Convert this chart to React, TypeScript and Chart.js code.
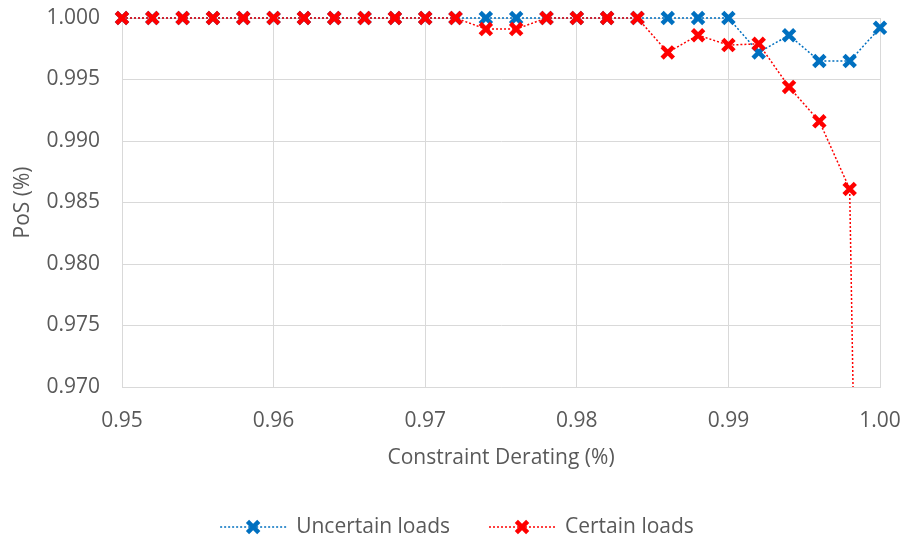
import React, { useEffect, useRef } from 'react';
import { Chart, registerables } from 'chart.js';

Chart.register(...registerables);

// Constraint derating levels (x) and probability of success for each load case (y)
const derating = [
  0.950, 0.952, 0.954, 0.956, 0.958, 0.960, 0.962, 0.964, 0.966, 0.968,
  0.970, 0.972, 0.974, 0.976, 0.978, 0.980, 0.982, 0.984, 0.986, 0.988,
  0.990, 0.992, 0.994, 0.996, 0.998, 1.000,
];
const uncertainLoads = [
  1.0, 1.0, 1.0, 1.0, 1.0, 1.0, 1.0, 1.0, 1.0, 1.0,
  1.0, 1.0, 1.0, 1.0, 1.0, 1.0, 1.0, 1.0, 1.0, 1.0,
  1.0, 0.9972, 0.9986, 0.9965, 0.9965, 0.9992,
];
const certainLoads = [
  1.0, 1.0, 1.0, 1.0, 1.0, 1.0, 1.0, 1.0, 1.0, 1.0,
  1.0, 1.0, 0.9991, 0.9991, 1.0, 1.0, 1.0, 1.0, 0.9972, 0.9986,
  0.9978, 0.9979, 0.9944, 0.9916, 0.9861, 0.84,
];

const seriesNames = ['Uncertain loads', 'Certain loads'];
const seriesColors = ['#0070C0', '#FF0000'];

const xAxisTitle = 'Constraint Derating (%)';
const yAxisTitle = 'PoS (%)';
const xRange = [0.95, 1.0];
const xStep = 0.01;
const yRange = [0.97, 1.0];
const yStep = 0.005;

const FONT_FAMILY = '"Open Sans", Lato, sans-serif';
const FONT_SIZE = 21;
const TEXT_COLOR = '#595959';
const GRID_COLOR = '#D9D9D9';

const toPoints = (ys: number[]) => derating.map((x, i) => ({ x, y: ys[i] }));

// Legend drawn under the axis: dotted line sample with an X marker, then the label
const bottomLegend = {
  id: 'bottomLegend',
  afterDraw(chart: any) {
    const ctx: CanvasRenderingContext2D = chart.ctx;
    ctx.save();
    ctx.font = `${FONT_SIZE}px ${FONT_FAMILY}`;
    const iconW = 66;
    const gap = 10;
    const itemGap = 39;
    const items = chart.data.datasets.map((ds: any) => ({
      text: ds.label as string,
      color: ds.borderColor as string,
      radius: ds.pointRadius as number,
      width: ds.pointBorderWidth as number,
    }));
    const widths = items.map((it: any) => iconW + gap + ctx.measureText(it.text).width);
    const total = widths.reduce((a: number, b: number) => a + b, 0) + itemGap * (items.length - 1);
    let x = 457 - total / 2;
    const y = 527;
    items.forEach((it: any, i: number) => {
      ctx.strokeStyle = it.color;
      ctx.lineWidth = 1.5;
      ctx.setLineDash([2, 2]);
      ctx.beginPath();
      ctx.moveTo(x, y);
      ctx.lineTo(x + iconW, y);
      ctx.stroke();
      ctx.setLineDash([]);
      const cx = x + iconW / 2;
      const d = it.radius / Math.SQRT2;
      ctx.lineWidth = it.width;
      ctx.beginPath();
      ctx.moveTo(cx - d, y - d);
      ctx.lineTo(cx + d, y + d);
      ctx.moveTo(cx - d, y + d);
      ctx.lineTo(cx + d, y - d);
      ctx.stroke();
      ctx.fillStyle = TEXT_COLOR;
      ctx.textBaseline = 'middle';
      ctx.textAlign = 'left';
      ctx.fillText(it.text, x + iconW + gap, y);
      x += widths[i] + itemGap;
    });
    ctx.restore();
  },
};

export default function App() {
  const canvasRef = useRef<HTMLCanvasElement | null>(null);

  useEffect(() => {
    if (!canvasRef.current) return;
    const series = [uncertainLoads, certainLoads];
    const chart = new Chart(canvasRef.current, {
      type: 'line',
      data: {
        datasets: series.map((ys, i) => ({
          label: seriesNames[i],
          data: toPoints(ys),
          borderColor: seriesColors[i],
          backgroundColor: seriesColors[i],
          borderWidth: 1.5,
          borderDash: [2, 2],
          tension: 0,
          fill: false,
          pointStyle: 'crossRot',
          pointRadius: 8,
          pointBorderWidth: 4.5,
          pointBorderColor: seriesColors[i],
          pointBackgroundColor: seriesColors[i],
          // certain loads are painted over uncertain loads
          order: i === 1 ? 0 : 1,
          clip: { left: 14, top: 14, right: 14, bottom: 0 },
        })),
      },
      options: {
        responsive: false,
        animation: false,
        events: [],
        layout: { padding: { top: 18, right: 26, left: 0, bottom: 68 } },
        plugins: {
          legend: { display: false },
          tooltip: { enabled: false },
        },
        scales: {
          x: {
            type: 'linear',
            min: xRange[0],
            max: xRange[1],
            afterFit: (s: any) => { s.height = 84; },
            ticks: {
              stepSize: xStep,
              color: TEXT_COLOR,
              padding: 0,
              font: { family: FONT_FAMILY, size: FONT_SIZE },
              callback: (v: any) => Number(v).toFixed(2),
            },
            grid: {
              color: GRID_COLOR,
              lineWidth: 1,
              drawTicks: true,
              tickLength: 21,
              tickColor: 'rgba(0,0,0,0)',
            },
            border: { color: GRID_COLOR, width: 1 },
            title: {
              display: true,
              text: xAxisTitle,
              color: TEXT_COLOR,
              font: { family: FONT_FAMILY, size: FONT_SIZE },
              padding: { top: 0, bottom: 0 },
            },
          },
          y: {
            type: 'linear',
            min: yRange[0],
            max: yRange[1],
            afterFit: (s: any) => { s.width = 122; },
            ticks: {
              stepSize: yStep,
              color: TEXT_COLOR,
              padding: 0,
              font: { family: FONT_FAMILY, size: FONT_SIZE },
              callback: (v: any) => Number(v).toFixed(3),
            },
            grid: {
              color: GRID_COLOR,
              lineWidth: 1,
              drawTicks: true,
              tickLength: 22,
              tickColor: 'rgba(0,0,0,0)',
            },
            border: { color: GRID_COLOR, width: 1 },
            title: {
              display: true,
              text: yAxisTitle,
              color: TEXT_COLOR,
              font: { family: FONT_FAMILY, size: FONT_SIZE },
              padding: { top: 10, bottom: 0 },
            },
          },
        },
      },
      plugins: [bottomLegend],
    });
    return () => chart.destroy();
  }, []);

  return (
    <div style={{ position: 'absolute', left: 0, top: 0, width: 906, height: 539, background: '#fff' }}>
      <canvas ref={canvasRef} width={906} height={539} style={{ display: 'block' }} />
    </div>
  );
}
